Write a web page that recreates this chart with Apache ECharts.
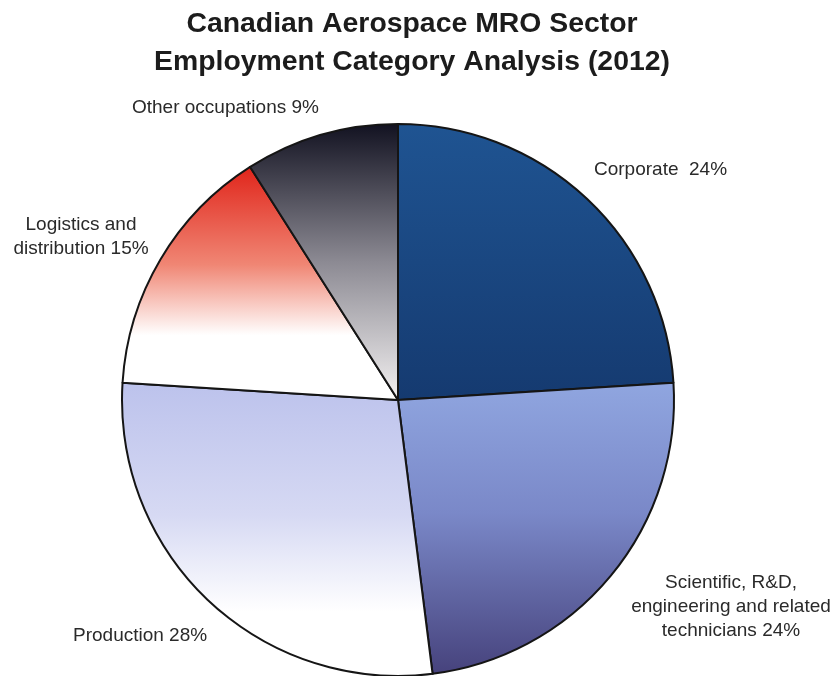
<!DOCTYPE html>
<html>
<head>
<meta charset="utf-8">
<title>Canadian Aerospace MRO Sector Employment Category Analysis (2012)</title>
<script src="https://cdn.jsdelivr.net/npm/echarts@6/dist/echarts.min.js"></script>
<style>
  html, body { margin: 0; padding: 0; background: #ffffff; }
  #chart { width: 832px; height: 676px; }
</style>
</head>
<body>
<div id="chart"></div>
<script>
// Employment shares (%) by category, clockwise from 12 o'clock
const categories = [
  'Corporate',
  'Scientific, R&D,\nengineering and related\ntechnicians',
  'Production',
  'Logistics and\ndistribution',
  'Other occupations'
];
const shares = [24, 24, 28, 15, 9];
const labelSeparators = ['  ', ' ', ' ', ' ', ' '];

// Vertical fill gradients per slice (top colour stops -> bottom)
const sliceGradients = [
  [[0, '#1f5492'], [1, '#153a70']],
  [[0, '#90a6e0'], [0.45, '#7a88c8'], [1, '#46427c']],
  [[0, '#bcc2ec'], [0.45, '#d6d9f3'], [0.78, '#ffffff'], [1, '#ffffff']],
  [[0, '#e0241a'], [0.42, '#f08674'], [0.72, '#ffffff'], [1, '#ffffff']],
  [[0, '#111120'], [0.5, '#8c8a93'], [1, '#f4f2f2']]
];

// Label anchor points and alignment
const labelAnchors = [
  { x: 594, y: 170, align: 'left' },
  { x: 731, y: 607, align: 'center' },
  { x: 73, y: 636, align: 'left' },
  { x: 81, y: 237, align: 'center' },
  { x: 132, y: 108, align: 'left' }
];

const chart = echarts.init(document.getElementById('chart'), null, { renderer: 'canvas' });

const pieData = categories.map((name, i) => ({
  name: name,
  value: shares[i],
  itemStyle: {
    color: new echarts.graphic.LinearGradient(0, 0, 0, 1,
      sliceGradients[i].map(s => ({ offset: s[0], color: s[1] })))
  }
}));

chart.setOption({
  animation: false,
  backgroundColor: '#ffffff',
  title: {
    text: 'Canadian Aerospace MRO Sector\nEmployment Category Analysis (2012)',
    left: 407,
    textAlign: 'center',
    top: 0,
    textStyle: {
      fontFamily: 'Liberation Sans, Arial, sans-serif',
      fontSize: 28.4,
      fontWeight: 'bold',
      lineHeight: 38,
      color: '#1c1c1c'
    }
  },
  series: [{
    type: 'pie',
    center: [398, 400],
    radius: 276,
    startAngle: 90,
    clockwise: true,
    silent: true,
    avoidLabelOverlap: false,
    data: pieData,
    itemStyle: {
      borderColor: '#151515',
      borderWidth: 2
    },
    label: {
      show: true,
      position: 'outside',
      fontFamily: 'Liberation Sans, Arial, sans-serif',
      fontSize: 19,
      lineHeight: 24,
      color: '#2a2a2a',
      formatter: p => p.name + labelSeparators[p.dataIndex] + p.value + '%'
    },
    labelLine: { show: false },
    labelLayout: p => {
      const a = labelAnchors[p.dataIndex];
      return { x: a.x, y: a.y, align: a.align, verticalAlign: 'middle' };
    }
  }]
});
</script>
</body>
</html>
